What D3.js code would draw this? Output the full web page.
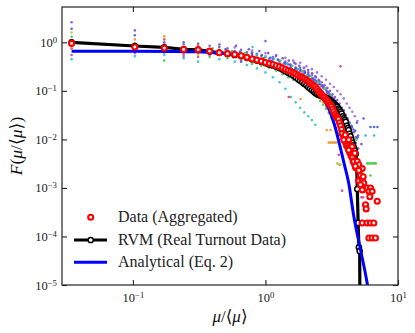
<!DOCTYPE html>
<html><head><meta charset="utf-8">
<script src="https://cdn.jsdelivr.net/npm/d3@7"></script>
<style>body{margin:0;background:#fff}</style>
</head><body><svg id="c" width="415" height="333"></svg>
<script>
// ---------- data ----------
const xTicks = [0.1, 1, 10];
const xTickExp = ["\u22121", "0", "1"];
const yTicks = [1, 1e-1, 1e-2, 1e-3, 1e-4, 1e-5];
const yTickExp = ["0", "\u22121", "\u22122", "\u22123", "\u22124", "\u22125"];
const legendLabels = ["Data (Aggregated)", "RVM (Real Turnout Data)", "Analytical (Eq. 2)"];

// Aggregated data (red open circles)
const dataX = [0.0345,0.1035,0.1725,0.2415,0.3105,0.3795,0.4485,0.5175,0.5865,0.6555,0.7245,0.7935,0.8625,0.9315,1.0005,1.0695,1.1385,1.2075,1.2765,1.3455,1.4145,1.4835,1.5525,1.6215,1.6905,1.7595,1.8285,1.8975,1.9665,2.0355,2.1045,2.1735,2.2425,2.3115,2.3805,2.4495,2.5185,2.5875,2.6565,2.7255,2.7945,2.8635,2.9325,3.0015,3.0705,3.1395,3.2085,3.2775,3.3465,3.4155,3.4845,3.5535,3.6225,3.6915,3.7605,3.8295,3.8985,3.9675,4.0365,4.1055,4.1745,4.2435,4.3125,4.3815,4.4505,4.5195,4.5885,4.6575,4.7265,4.7955,
 3.79,4.0,3.9,4.25,4.5,4.25,4.72,4.64,4.93,5.06,5.37,4.77,5.06,5.21,5.06,5.37,5.51,5.21,5.46,5.85,6.2,6.03,6.38,5.37,6.13,6.97,5.69,5.75,5.37,5.85,6.2,6.57,6.03,6.38,6.76];
const dataY = [0.95,0.80,0.76,0.71,0.70,0.66,0.61,0.585,0.56,0.53,0.49,0.455,0.43,0.41,0.385,0.365,0.35,0.33,0.315,0.295,0.278,0.262,0.25,0.238,0.224,0.21,0.20,0.19,0.178,0.168,0.157,0.147,0.137,0.128,0.12,0.109,0.099,0.09,0.083,0.077,0.072,0.066,0.062,0.057,0.052,0.048,0.042,0.037,0.033,0.030,0.028,0.026,0.022,0.019,0.016,0.013,0.011,0.0095,0.0085,0.0075,0.0068,0.0063,0.0055,0.005,0.0045,0.0042,0.0036,0.0033,0.003,0.0026,
 0.0133,0.0123,0.0098,0.0098,0.0071,0.006,0.0052,0.0035,0.0035,0.003,0.0025,0.0028,0.0023,0.0018,0.0014,0.0015,0.00126,0.00116,0.0017,0.001,0.001,0.00085,0.00085,0.00091,0.00066,0.00053,0.00045,0.00037,0.00019,0.00019,0.00019,0.00019,0.000093,0.000093,0.000093];

// RVM (black line with open circles)
const rvmX = [0.0345,0.1035,0.1725,0.2415,0.3105,0.3795,0.4485,0.5175,0.5865,0.6555,0.7245,0.7935,0.8625,0.9315,1.0005,1.0695,1.1385,1.2075,1.2765,1.3455,1.4145,1.4835,1.5525,1.6215,1.6905,1.7595,1.8285,1.8975,1.9665,2.0355,2.1045,2.1735,2.2425,2.3115,2.3805,2.4495,2.5185,2.5875,2.6565,2.7255,2.7945,2.8635,2.9325,3.0015,3.0705,3.1395,3.2085,3.2775,3.3465,3.4155,3.4845,3.5535,3.6225,3.6915,3.7605,3.8295,3.8985,3.9675,4.0365,4.1055,4.1745,4.2435,4.3125,4.3815,4.4505,4.5195,4.5885,4.6575,4.7265,4.7955,4.8645,4.9335,5.0025,5.0715,5.1405,5.2];
const rvmY = [1.0,0.84,0.79,0.72,0.70,0.65,0.61,0.58,0.55,0.52,0.48,0.45,0.42,0.40,0.375,0.35,0.335,0.315,0.295,0.275,0.255,0.237,0.222,0.207,0.19,0.176,0.163,0.151,0.14,0.13,0.12,0.112,0.104,0.097,0.09,0.086,0.083,0.08,0.078,0.076,0.074,0.072,0.07,0.067,0.064,0.061,0.058,0.055,0.052,0.049,0.047,0.043,0.04,0.037,0.034,0.03,0.027,0.025,0.023,0.019,0.017,0.0155,0.013,0.0115,0.0098,0.0085,0.0075,0.0066,0.0058,0.005,0.0035,0.00095,0.00019,0.00006,0.00005,1e-8];
const rvmMarkerCount = 75; // last point is the drop-off, no marker

// Analytical curve (blue)
const anaX = [0.0345,0.1,0.2,0.3,0.4,0.5,0.6,0.7,0.8,1.0,1.2,1.5,2.0,2.5,2.8,3.0,3.3,3.6,3.9,4.25,4.64,5.21,5.85,6.3];
const anaY = [0.655,0.655,0.65,0.64,0.62,0.59,0.56,0.52,0.47,0.39,0.33,0.255,0.16,0.095,0.062,0.043,0.021,0.0085,0.0034,0.00125,0.00026,0.000054,0.000011,0.000003];

// individual-country scatter (small coloured dots)
const scPurple = [[0.0345,2.6],[0.1035,1.76],[0.1725,1.0],[0.2415,0.9],[0.3105,0.94],[0.3795,0.85],[0.5175,0.75],[0.6555,0.70],[0.7935,0.62],[0.9315,0.52],[1.0005,1.06],[1.1385,0.50],[1.2765,0.42],[1.4145,0.40],[1.5525,0.33],[1.6905,0.36],[1.8285,0.30],[1.9665,0.26],[2.1045,0.24],[2.2425,0.21],[2.3805,0.20],[2.5185,0.17],[2.6565,0.15],[2.7945,0.13],[2.9325,0.115],[3.0705,0.10],[3.2085,0.085],[3.3465,0.075],[3.4845,0.065],[3.6225,0.055],[3.7605,0.045],[3.8985,0.04],[4.0365,0.032],[4.1745,0.027],[4.3125,0.022],[4.4505,0.018],[4.65,0.014],[4.85,0.010]];
const scBlue = [[0.0345,1.9],[0.1035,1.4],[0.1725,0.9],[0.2415,1.0],[0.3105,0.8],[0.3795,0.72],[0.4485,0.80],[0.5865,0.66],[0.7245,0.62],[0.8625,0.55],[1.0005,0.50],[1.1385,0.45],[1.2765,0.40],[1.4145,0.36],[1.5525,0.31],[1.6905,0.28],[1.8285,0.26],[1.9665,0.23],[2.1045,0.20],[2.2425,0.18],[2.3805,0.165],[2.5185,0.14],[2.6565,0.125],[2.7945,0.11],[2.9325,0.095],[3.0705,0.083],[3.2085,0.072],[3.3465,0.062],[3.4845,0.052],[3.6225,0.044],[3.7605,0.037],[3.8985,0.031],[4.0365,0.026],[4.25,0.021],[4.5,0.018],[4.9,0.022],[5.5,0.027],[6.2,0.018],[6.6,0.018],[7.0,0.018]];
const scGreen = [[0.0345,1.3],[0.1035,0.95],[0.1725,0.42],[0.2415,0.65],[0.3105,0.75],[0.3795,0.50],[0.5175,0.47],[0.6555,0.42],[0.7935,0.36],[0.9315,0.33],[1.0695,0.30],[1.2075,0.26],[1.3455,0.22],[1.4835,0.19],[1.6215,0.17],[1.7595,0.15],[1.8975,0.13],[2.0355,0.115],[2.1735,0.10],[2.3115,0.085],[2.4495,0.075],[2.5875,0.062],[2.7255,0.052],[2.8635,0.043],[3.0015,0.035],[3.1395,0.028],[3.2775,0.022],[3.4155,0.017],[3.5535,0.013],[3.9,0.0071],[4.05,0.0071],[4.2,0.0071],[4.4,0.0071],[5.85,0.0032],[6.0,0.0032],[6.2,0.0032],[6.4,0.0032],[6.6,0.0032],[6.8,0.0032],[6.2,0.0018]];
const scCyan = [[0.0345,0.45],[0.1035,0.52],[0.1725,0.55],[0.2415,0.47],[0.3105,0.4],[0.4485,0.45],[0.5865,0.40],[0.7245,0.34],[0.8625,0.29],[1.0005,0.24],[1.1385,0.19],[1.2765,0.15],[1.4145,0.11],[1.5525,0.075],[1.6905,0.058],[1.8285,0.045],[1.9665,0.036],[2.1045,0.03],[2.2425,0.025],[2.3805,0.02],[0.8,0.8]];
const scOrange = [[0.0345,1.1],[0.1035,1.15],[0.1725,1.33],[0.2415,0.8],[0.3105,0.62],[0.3795,0.62],[0.5175,0.68],[0.6555,0.58],[0.7935,0.50],[0.9315,0.45],[1.0695,0.40],[1.2075,0.37],[1.3455,0.32],[1.4835,0.28],[1.6215,0.24],[1.7595,0.21],[1.8975,0.18],[2.0355,0.15],[2.1735,0.13],[2.3115,0.105],[2.4495,0.09],[2.5875,0.075],[2.7255,0.06],[2.8635,0.048],[1.84,0.068],[2.9,0.0156],[3.1,0.0156],[3.0,0.0086],[3.1,0.0086],[3.2,0.0086],[3.3,0.0086],[3.4,0.0086],[3.55,0.0086]];
const scRed = [[0.0345,0.75],[0.1035,0.7],[0.1725,1.15],[0.2415,0.58],[0.3105,0.85],[0.4485,0.70],[0.5865,0.52],[0.7245,0.44],[0.8625,0.48],[1.0005,0.36],[1.1385,0.38],[1.2765,0.30],[1.4145,0.30],[1.5525,0.22],[1.6905,0.20],[1.8285,0.17],[1.9665,0.16],[2.1045,0.13],[2.2425,0.12],[2.3805,0.10],[2.5185,0.085],[2.6565,0.075],[2.7945,0.06],[2.9325,0.05],[3.0705,0.042],[3.2085,0.035],[3.3465,0.028],[3.4845,0.022],[3.6225,0.016],[3.7605,0.013],[1.5,0.075]];
const scMagenta = [[0.0345,0.55],[0.1035,0.6],[0.1725,0.62],[0.2415,0.52],[0.3105,0.5],[0.3795,0.55],[0.5175,0.58],[0.6555,0.48],[0.7935,0.55],[0.9315,0.38],[1.0695,0.42],[1.2075,0.33],[1.3455,0.35],[1.4835,0.27],[1.6215,0.27],[1.7595,0.24],[1.8975,0.21],[2.0355,0.19],[2.1735,0.17],[2.3115,0.14],[2.4495,0.13],[2.5875,0.11],[2.7255,0.095],[2.8635,0.08],[3.0015,0.068],[3.1395,0.057],[3.2775,0.047],[3.4155,0.038],[3.5535,0.03],[3.57,0.0048],[3.64,0.003],[3.79,0.00088],[5.3,0.00064],[5.45,0.00064],[3.68,0.32]];
const scLime = [[0.0345,1.6],[0.1035,0.85],[0.1725,0.75],[0.2415,0.72],[0.3105,0.55],[0.4485,0.55],[0.6555,0.62],[0.8625,0.40],[1.0695,0.34],[1.2765,0.36],[1.4835,0.24],[1.6905,0.25],[1.8975,0.16],[2.1045,0.18],[2.3115,0.12],[2.5185,0.11],[2.7255,0.08],[2.9325,0.07],[3.1395,0.05],[3.48,0.0032],[3.54,0.0031],[3.68,0.003]];
const scViolet = [[0.5865,0.78],[0.7935,0.68],[1.0005,0.60],[1.2075,0.55],[1.4145,0.48],[1.6215,0.42],[1.8285,0.38],[2.0355,0.32],[2.2425,0.28],[2.4495,0.24],[2.6565,0.20],[2.8635,0.17],[3.0705,0.14],[3.2775,0.12],[3.4845,0.10],[3.6915,0.085],[3.8985,0.07],[4.1055,0.055],[4.3125,0.045],[4.5195,0.037],[4.7265,0.03],[4.9335,0.024]];
const scIndigo = [[0.6555,0.40],[0.8625,0.58],[1.0695,0.46],[1.2765,0.33],[1.4835,0.35],[1.6905,0.30],[1.8975,0.25],[2.1045,0.22],[2.3115,0.17],[2.5185,0.15],[2.7255,0.12],[2.9325,0.09],[3.1395,0.075],[3.3465,0.06],[3.5535,0.048],[3.7605,0.033],[3.9675,0.026],[4.1745,0.019],[4.3815,0.015],[4.5885,0.011],[4.7955,0.0085],[5.0,0.0065]];
const scPurple2 = [[0.45,0.9],[0.52,0.62],[0.6,0.85],[0.68,0.55],[0.75,0.72],[0.83,0.5],[0.9,0.66],[0.97,0.47],[1.05,0.6],[1.12,0.41],[1.2,0.52],[1.28,0.36],[1.35,0.47],[1.43,0.31],[1.5,0.42],[1.58,0.28],[1.65,0.38],[1.72,0.25],[1.8,0.33],[1.87,0.2],[1.95,0.3],[2.02,0.19],[2.1,0.27],[2.17,0.14],[2.25,0.23],[2.32,0.15],[2.4,0.19],[2.47,0.11],[2.55,0.16],[2.62,0.1],[2.7,0.13],[2.77,0.085],[2.85,0.11],[2.92,0.07],[3.0,0.095],[3.08,0.06],[3.15,0.08],[3.23,0.05],[3.3,0.068],[3.38,0.042],[3.45,0.057],[3.53,0.036],[3.6,0.048],[3.68,0.03],[3.76,0.04],[3.84,0.026],[3.92,0.033],[4.0,0.021],[4.1,0.027],[4.2,0.017],[4.3,0.022],[4.45,0.014],[4.6,0.016],[4.8,0.011],[5.0,0.012],[5.3,0.008]];
const scBlue2 = [[0.42,0.58],[0.5,0.72],[0.57,0.5],[0.64,0.64],[0.71,0.45],[0.79,0.58],[0.86,0.4],[0.94,0.55],[1.01,0.33],[1.09,0.48],[1.16,0.3],[1.24,0.44],[1.31,0.27],[1.39,0.38],[1.46,0.23],[1.54,0.35],[1.61,0.2],[1.69,0.3],[1.76,0.17],[1.84,0.27],[1.91,0.15],[1.99,0.24],[2.06,0.13],[2.14,0.2],[2.21,0.115],[2.29,0.18],[2.36,0.1],[2.44,0.155],[2.51,0.085],[2.59,0.135],[2.66,0.072],[2.74,0.115],[2.81,0.06],[2.89,0.1],[2.96,0.05],[3.04,0.085],[3.11,0.042],[3.19,0.07],[3.26,0.036],[3.34,0.06],[3.41,0.03],[3.49,0.05],[3.56,0.025],[3.64,0.042],[3.71,0.021],[3.79,0.035],[3.86,0.017],[3.94,0.03],[4.05,0.014],[4.15,0.024],[4.3,0.011],[4.45,0.019],[4.6,0.009],[4.75,0.015],[4.95,0.011]];
const scGreen2 = [[0.4,0.75],[0.55,0.55],[0.7,0.6],[0.85,0.45],[1.0,0.52],[1.15,0.36],[1.3,0.42],[1.45,0.29],[1.6,0.33],[1.75,0.22],[1.9,0.26],[2.05,0.16],[2.2,0.2],[2.35,0.12],[2.5,0.15],[2.65,0.09],[2.8,0.11],[2.95,0.065],[3.1,0.08],[3.25,0.046],[3.4,0.058],[3.55,0.034],[3.7,0.04],[3.85,0.022],[4.0,0.026],[4.2,0.015],[4.4,0.017],[4.6,0.009],[4.8,0.01]];
const scCyan2 = [[0.41,0.6],[0.56,0.66],[0.71,0.5],[0.86,0.56],[1.01,0.42],[1.16,0.46],[1.31,0.34],[1.46,0.37],[1.61,0.26],[1.76,0.28],[1.91,0.19],[2.06,0.21],[2.21,0.14],[2.36,0.15],[2.51,0.1],[2.66,0.1],[2.81,0.07],[2.96,0.068],[3.11,0.048],[3.26,0.045],[3.41,0.032],[3.56,0.03],[3.71,0.021],[3.86,0.019],[4.1,0.012],[4.4,0.009],[6.6,0.012],[5.7,0.012]];

const scatterSeries = [scPurple, scBlue, scGreen, scCyan, scOrange, scRed, scMagenta, scLime, scViolet, scIndigo, scPurple2, scBlue2, scGreen2, scCyan2];
const scatterColors = ["#8a55d6", "#4a66d8", "#4ccc4c", "#3cc4d4", "#e89a30", "#e05050", "#d048c4", "#b8d23a", "#a070e6", "#5a5ad0", "#7b4fd0", "#3f5ccc", "#5ccc5c", "#33b8cc"];

// ---------- layout ----------
const W = 415, H = 333;
const m = {left: 62, right: 17, top: 7, bottom: 48};
const svg = d3.select("#c");
const x = d3.scaleLog().domain([0.0292, 10]).range([m.left, W - m.right]);
const y = d3.scaleLog().domain([1e-5, Math.pow(10, 0.728)]).range([H - m.bottom, m.top]);
const serif = "'Liberation Serif','DejaVu Serif',serif";

svg.append("defs").append("clipPath").attr("id", "clip")
  .append("rect").attr("x", m.left).attr("y", m.top)
  .attr("width", W - m.left - m.right).attr("height", H - m.top - m.bottom);

const plot = svg.append("g").attr("clip-path", "url(#clip)");

// scatter dots
scatterSeries.forEach((s, i) => {
  plot.append("g").selectAll("circle").data(s).join("circle")
    .attr("cx", d => x(d[0])).attr("cy", d => y(d[1])).attr("r", 1.3)
    .attr("fill", scatterColors[i]).attr("opacity", 0.95);
});

const line = d3.line().x(d => x(d[0])).y(d => y(d[1]));
const rvm = rvmX.map((v, i) => [v, rvmY[i]]);
const ana = anaX.map((v, i) => [v, anaY[i]]);

// RVM
plot.append("path").datum(rvm).attr("d", line)
  .attr("fill", "none").attr("stroke", "#000").attr("stroke-width", 3.2).attr("stroke-linejoin", "round");
plot.append("g").selectAll("circle").data(rvm.slice(0, rvmMarkerCount)).join("circle")
  .attr("cx", d => x(d[0])).attr("cy", d => y(d[1])).attr("r", 2.6)
  .attr("fill", "#fff").attr("stroke", "#000").attr("stroke-width", 1.5);

// analytical
plot.append("path").datum(ana).attr("d", line.curve(d3.curveMonotoneX))
  .attr("fill", "none").attr("stroke", "#0000ff").attr("stroke-width", 3);

// aggregated data
plot.append("g").selectAll("circle").data(dataX.map((v, i) => [v, dataY[i]])).join("circle")
  .attr("cx", d => x(d[0])).attr("cy", d => y(d[1])).attr("r", 2.5)
  .attr("fill", "#fff").attr("stroke", "#ff0000").attr("stroke-width", 2.1);

// ---------- axes ----------
function styleAxis(g) {
  g.select(".domain").remove();
  g.selectAll(".tick line").attr("stroke", "#222").attr("stroke-width", 1.1);
  g.selectAll(".tick text").attr("font-family", serif).attr("font-size", 12.5).attr("fill", "#222");
}
function supLabels(g, exps) {
  g.selectAll(".tick text").each(function(d, i) {
    const t = d3.select(this);
    t.text("10");
    t.append("tspan").attr("dy", "-0.45em").attr("font-size", "0.7em").text(exps[i]);
  });
}
const gB = svg.append("g").attr("transform", `translate(0,${H - m.bottom})`)
  .call(d3.axisBottom(x).tickValues(xTicks).tickSize(-5).tickPadding(6).tickFormat(() => ""));
styleAxis(gB); supLabels(gB, xTickExp);
gB.selectAll(".tick text").attr("dy", "0.85em");
const gT = svg.append("g").attr("transform", `translate(0,${m.top})`)
  .call(d3.axisTop(x).tickValues(xTicks).tickSize(-5).tickFormat(() => ""));
styleAxis(gT);
const gL = svg.append("g").attr("transform", `translate(${m.left},0)`)
  .call(d3.axisLeft(y).tickValues(yTicks).tickSize(-5).tickPadding(5).tickFormat(() => ""));
styleAxis(gL); supLabels(gL, yTickExp);
const gR = svg.append("g").attr("transform", `translate(${W - m.right},0)`)
  .call(d3.axisRight(y).tickValues(yTicks).tickSize(-5).tickFormat(() => ""));
styleAxis(gR);

svg.append("rect").attr("x", m.left).attr("y", m.top)
  .attr("width", W - m.left - m.right).attr("height", H - m.top - m.bottom)
  .attr("fill", "none").attr("stroke", "#222").attr("stroke-width", 1.2);

// axis labels
const xl = svg.append("text").attr("x", (m.left + W - m.right) / 2).attr("y", 322)
  .attr("text-anchor", "middle").attr("font-family", serif).attr("font-size", 17).attr("fill", "#111");
xl.append("tspan").attr("font-style", "italic").text("\u03bc");
xl.append("tspan").text("/\u27e8");
xl.append("tspan").attr("font-style", "italic").text("\u03bc");
xl.append("tspan").text("\u27e9");

const yl = svg.append("text").attr("transform", `translate(22,${(m.top + H - m.bottom) / 2}) rotate(-90)`)
  .attr("text-anchor", "middle").attr("font-family", serif).attr("font-size", 17.5).attr("fill", "#111");
yl.append("tspan").attr("font-style", "italic").text("F");
yl.append("tspan").text("(");
yl.append("tspan").attr("font-style", "italic").text("\u03bc");
yl.append("tspan").text("/\u27e8");
yl.append("tspan").attr("font-style", "italic").text("\u03bc");
yl.append("tspan").text("\u27e9)");

// ---------- legend ----------
const lg = svg.append("g");
const rowY = [217.3, 240, 262.3];
const lx0 = 74, lx1 = 107, lxm = 90.7, ltx = 118;
lg.append("circle").attr("cx", lxm).attr("cy", rowY[0]).attr("r", 2.5)
  .attr("fill", "#fff").attr("stroke", "#ff0000").attr("stroke-width", 2.1);
lg.append("line").attr("x1", lx0).attr("x2", lx1).attr("y1", rowY[1]).attr("y2", rowY[1])
  .attr("stroke", "#000").attr("stroke-width", 3.2);
lg.append("circle").attr("cx", lxm).attr("cy", rowY[1]).attr("r", 2.6)
  .attr("fill", "#fff").attr("stroke", "#000").attr("stroke-width", 1.5);
lg.append("line").attr("x1", lx0).attr("x2", lx1).attr("y1", rowY[2]).attr("y2", rowY[2])
  .attr("stroke", "#0000ff").attr("stroke-width", 3);
legendLabels.forEach((t, i) => {
  lg.append("text").attr("x", ltx).attr("y", rowY[i] + 5).attr("font-family", serif)
    .attr("font-size", 16).attr("fill", "#222").text(t);
});
</script>
</body></html>
